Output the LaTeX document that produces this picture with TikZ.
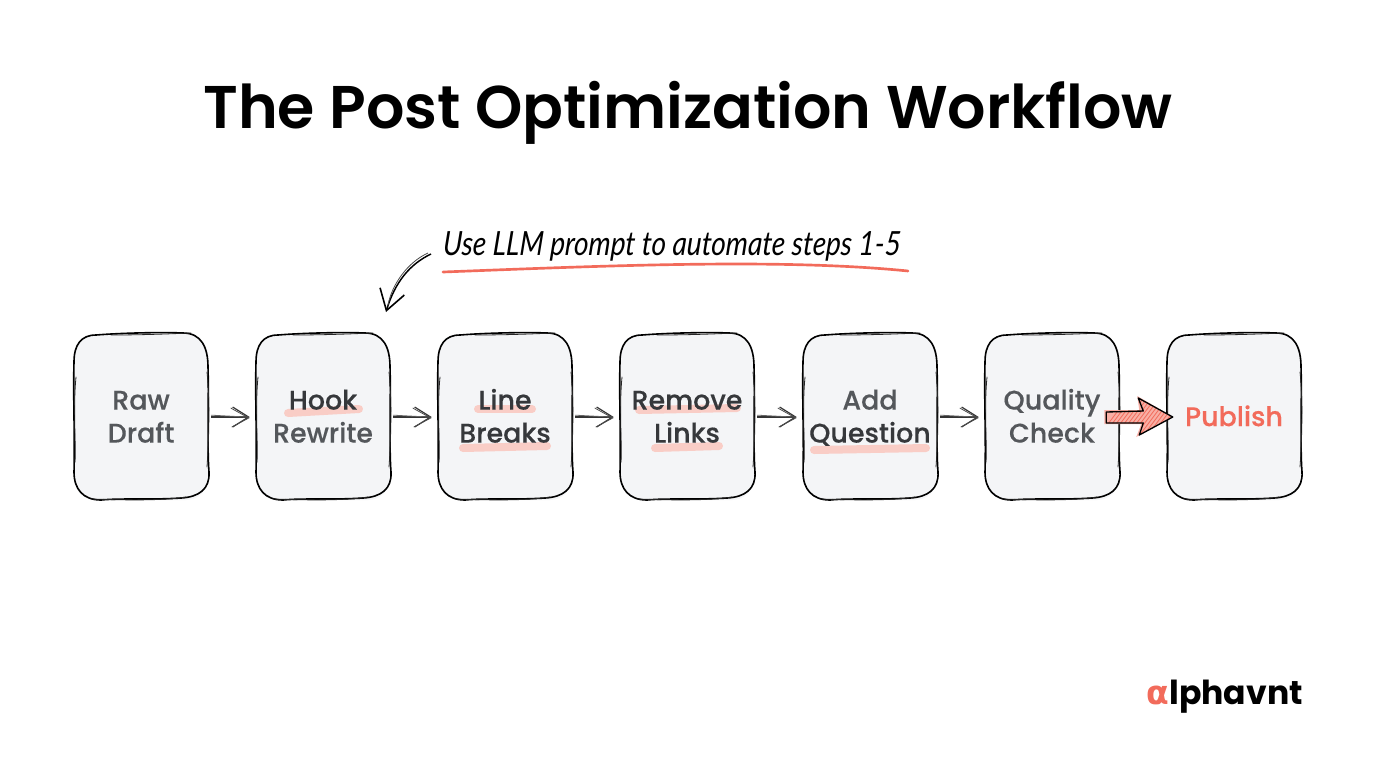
\documentclass[tikz,border=0pt]{standalone}
\usepackage{fontspec}
\usetikzlibrary{arrows.meta,calc}
\setmainfont{Poppins}
\newfontfamily\titlefont{Poppins SemiBold}
\newfontfamily\cardfont{Poppins Medium}[FakeBold=0.25]
\newfontfamily\handfont{Lato Italic}[FakeStretch=0.84,FakeSlant=0.06]
\newfontfamily\logofont{Poppins Bold}
\newfontfamily\alphafont{DejaVu Sans}
\definecolor{cardfill}{HTML}{F4F5F7}
\definecolor{cardtext}{HTML}{54575B}
\definecolor{darktext}{HTML}{36383B}
\definecolor{coral}{HTML}{F26B5B}
\definecolor{blush}{HTML}{F9CDC6}
\definecolor{salmon}{HTML}{F8AFA5}
\newcommand{\dk}[1]{\textcolor{darktext}{#1}}
\newcommand{\tstrut}{\rule[-7.4pt]{0pt}{28.4pt}}
\tikzset{
  x=0.75pt,y=-0.75pt,
  sketchcard/.style={rectangle,rounded corners=16.5pt,fill=cardfill,draw=none,
    minimum width=100.5pt,minimum height=124.5pt,inner sep=0pt,align=center,
    text=cardtext,font=\cardfont\fontsize{20.2}{24.75}\selectfont},
  ink/.style={draw=black,line width=1.2pt,line join=round,line cap=round},
  thinink/.style={draw=black!85,line width=0.6pt,line cap=round},
  hiliter/.style={draw=blush,line width=6pt,line cap=round},
  flowarrow/.style={draw=black!80,line width=0.8pt,shorten <=2.2pt,shorten >=4.5pt,
    -{Straight Barb[length=12pt,width=15pt,line width=0.9pt]}},
}
\newcommand{\hl}[4]{\draw[hiliter] ($(path picture bounding box.center)+(#1,#2)$) -- ($(path picture bounding box.center)+(#3,#4)$);}
\begin{document}
\begin{tikzpicture}
\useasboundingbox (0,0) rectangle (1376,768);
\fill[white] (0,0) rectangle (1376,768);
\node[font=\titlefont\fontsize{45.2}{54}\selectfont,text=black] (title) at (688,113) {The Post Optimization Workflow};

\node[sketchcard] (raw) at (141,417) {\tstrut Raw\\Draft\strut};
\node[sketchcard,path picture={\hl{-35}{-4}{36}{-8}}] (hook) at (323,417) {\tstrut\dk{Hook}\\Rewrite\strut};
\node[sketchcard,path picture={\hl{-27}{-8}{27}{-8}\hl{-42}{31}{42}{29}}] (line) at (505,417) {\tstrut\dk{Line}\\\dk{Breaks}\strut};
\node[sketchcard,path picture={\hl{-48}{-7}{50}{-9}\hl{-32}{31}{32}{29}}] (remove) at (687,417) {\tstrut\dk{Remove}\\\dk{Links}\strut};
\node[sketchcard,path picture={\hl{-56}{33}{56}{31}}] (add) at (870,417) {\tstrut Add\\\dk{Question}\strut};
\node[sketchcard] (check) at (1052,417) {\tstrut Quality\\Check\strut};
\node[sketchcard,text=coral] (pub) at (1234,417) {\tstrut Publish};

\foreach \n in {raw,hook,line,remove,add,check,pub}{
  \begin{scope}[shift={(\n.center)}]
    \draw[ink] (-45,-82) .. controls (-20,-84) and (20,-85) .. (42,-84)
      .. controls (60,-84) and (67,-70) .. (67,-50)
      .. controls (68,-20) and (66,30) .. (68,55)
      .. controls (69,72) and (58,80) .. (40,81)
      .. controls (10,83) and (-20,81) .. (-40,83)
      .. controls (-58,83) and (-67,72) .. (-67,55)
      .. controls (-66,20) and (-68,-20) .. (-67,-55)
      .. controls (-67,-72) and (-60,-82) .. (-45,-82) -- cycle;
    \draw[thinink] (-30,-82) .. controls (0,-82) and (25,-83) .. (50,-84);
    \draw[thinink] (66,-45) .. controls (69,-15) and (68,20) .. (66,50);
    \draw[thinink] (-50,82) .. controls (-20,83) and (20,84) .. (45,80);
    \draw[thinink] (-65,-40) .. controls (-68,-10) and (-65,25) .. (-66,45);
  \end{scope}
}

\foreach \a/\b in {raw/hook,hook/line,line/remove,remove/add,add/check}{
  \draw[flowarrow] (\a.east) -- (\b.west);
  \draw[draw=black!60,line width=0.6pt,shorten <=2.2pt,shorten >=5pt] ($(\a.east)+(0,-2)$) -- ($(\b.west)+(0,0.5)$);
  \draw[draw=black!70,line width=0.6pt] ($(\b.west)+(-25,-9)$) -- ($(\b.west)+(-7,1)$) -- ($(\b.west)+(-24,10)$);
}

% publish arrow
\coordinate (pa) at (check.east);
\coordinate (pb) at (pub.west);
\fill[salmon] ($(pa)+(-15,-7)$) -- ($(pa)+(20,-7)$) -- ($(pa)+(18,-21)$) -- ($(pb)+(6,0)$) -- ($(pa)+(17,20)$) -- ($(pa)+(22,7)$) -- ($(pa)+(-15,7)$) -- cycle;
\begin{scope}
  \clip ($(pa)+(-14,-5)$) -- ($(pa)+(24,-6)$) -- ($(pa)+(19,-19)$) -- ($(pb)+(6,0)$) -- ($(pa)+(20,18)$) -- ($(pa)+(24,6)$) -- ($(pa)+(-14,6)$) -- cycle;
  \foreach \d in {-24,-20,...,70}{
    \draw[coral,line width=0.6pt] ($(pa)+(\d,24)$) -- ($(pa)+(\d+36,-24)$);
  }
\end{scope}
\draw[draw=black,line width=1pt,line join=round] ($(pa)+(24,-6)$) -- ($(pa)+(-13,-5)$) -- ($(pa)+(-13,6)$) -- ($(pa)+(24,6)$) -- ($(pa)+(20,18)$) -- ($(pb)+(6,0)$) -- ($(pa)+(19,-19)$) -- cycle;

% annotation
\node[font=\handfont\fontsize{25}{30}\selectfont,text=black,anchor=west] (note) at (438,246) {Use LLM prompt to automate steps 1-5};
\coordinate (ulA) at (443,272);
\coordinate (ulB) at (908,271);
\draw[draw=coral,line width=2pt,line cap=round] (ulA) .. controls (600,266) and (780,258) .. (ulB);
\coordinate (cuA) at (431,254);
\coordinate (cuB) at (386,312);
\draw[draw=black,line width=1.1pt,-{Straight Barb[length=15pt,width=19pt,line width=1.2pt]}] (cuA) .. controls (410,264) and (395,282) .. (cuB);
\draw[draw=black!70,line width=0.6pt] (428,253) .. controls (408,262) and (392,284) .. (388,305);

% logo
\node[font=\logofont\fontsize{24.8}{30}\selectfont,anchor=base east,inner sep=0pt,text=black] (logo) at (1303,704) {\textcolor{coral}{\alphafont\bfseries α}lphavnt};
\end{tikzpicture}
\end{document}
